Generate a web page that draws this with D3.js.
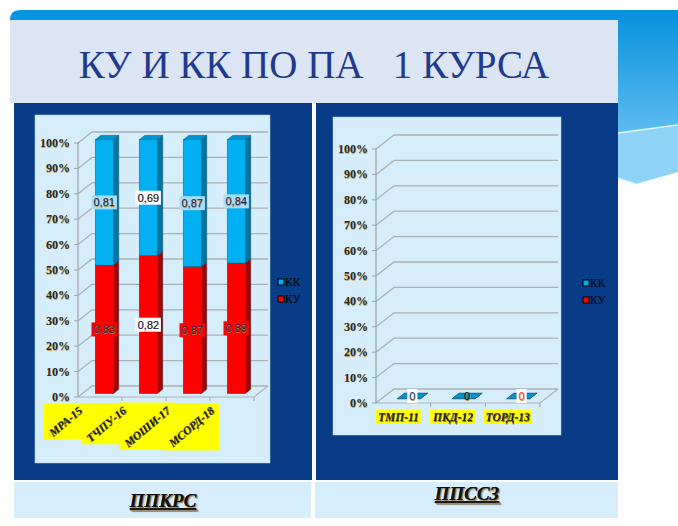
<!DOCTYPE html>
<html>
<head>
<meta charset="utf-8">
<script src="https://cdn.jsdelivr.net/npm/d3@7/dist/d3.min.js"></script>
<style>
  body { margin: 0; background: #fff; }
  svg { display: block; }
  .serif { font-family: "Liberation Serif", "Times New Roman", "DejaVu Serif", serif; }
</style>
</head>
<body>
<script>
var title = "КУ И КК ПО ПА   1 КУРСА";
var sectionNames = ["ППКРС", "ППССЗ"];
var seriesNames = ["КК", "КУ"];

var leftGroups = ["МРА-15", "ТЧПУ-16", "МОШИ-17", "МСОРД-18"];
var leftKU = [0.83, 0.82, 0.87, 0.89];
var leftKK = [0.81, 0.69, 0.87, 0.84];

var rightGroups = ["ТМП-11", "ПКД-12", "ТОРД-13"];
var rightKU = [0, 0, 0];
var rightKK = [0, 0, 0];

var yTicks = [0, 0.1, 0.2, 0.3, 0.4, 0.5, 0.6, 0.7, 0.8, 0.9, 1];
var yTickLabels = ["0%", "10%", "20%", "30%", "40%", "50%", "60%", "70%", "80%", "90%", "100%"];

var W = 678, H = 526;
var svg = d3.select("body").append("svg").attr("width", W).attr("height", H);

var defs = svg.append("defs");
var grad = defs.append("linearGradient").attr("id", "deco").attr("x1", 0).attr("y1", 0).attr("x2", 0).attr("y2", 1);
grad.append("stop").attr("offset", "0%").attr("stop-color", "#0690dd");
grad.append("stop").attr("offset", "100%").attr("stop-color", "#5dbcf0");

// slide decoration
svg.append("path")
    .attr("d", "M10,20 Q10,10 20,10 L678,10 L678,20 Z")
    .attr("fill", "#0793e0");
svg.append("rect").attr("x", 618).attr("y", 10).attr("width", 60).attr("height", 122).attr("fill", "url(#deco)");
svg.append("path")
    .attr("d", "M618,133 L678,126 L678,172 L636,184 L618,179 Z")
    .attr("fill", "#8fd2f8");
svg.append("path")
    .attr("d", "M618,133 L678,125")
    .attr("stroke", "#e6f4fd").attr("stroke-width", 1.5);
svg.append("path")
    .attr("d", "M618,178 L636,184")
    .attr("stroke", "#e6f4fd").attr("stroke-width", 1.2);

// title box
svg.append("rect").attr("x", 10).attr("y", 20).attr("width", 608).attr("height", 83).attr("fill", "#dbe5f4");
svg.append("text")
    .attr("class", "serif")
    .attr("x", 314).attr("y", 78)
    .attr("text-anchor", "middle")
    .style("white-space", "pre")
    .attr("font-size", 39)
    .attr("fill", "#1f3a8c")
    .text(title);

// table cells
svg.append("rect").attr("x", 14).attr("y", 103).attr("width", 298).attr("height", 377).attr("fill", "#083c86");
svg.append("rect").attr("x", 316).attr("y", 103).attr("width", 302).attr("height", 377).attr("fill", "#083c86");
svg.append("rect").attr("x", 14).attr("y", 482).attr("width", 297).attr("height", 36).attr("fill", "#d6edfc");
svg.append("rect").attr("x", 315).attr("y", 482).attr("width", 303).attr("height", 36).attr("fill", "#d6edfc");

[[163, 507], [467, 500]].forEach(function (p, i) {
    svg.append("text")
        .attr("class", "serif")
        .attr("x", p[0]).attr("y", p[1])
        .attr("text-anchor", "middle")
        .attr("font-size", 19)
        .attr("font-weight", "bold")
        .attr("font-style", "italic")
        .attr("text-decoration", "underline")
        .attr("fill", "#111")
        .style("text-shadow", "1px 1px 1px #9a8a70")
        .text(sectionNames[i]);
});

var kkColors = { front: "#00b0f0", side: "#00739f", top: "#0094cc" };
var kuColors = { front: "#ff0000", side: "#a30000", top: "#c80000" };

function drawBox(g, xl, xr, yb, yt, bdx, bdy, c) {
    g.append("path")
        .attr("d", "M" + xr + "," + yt + "L" + (xr + bdx) + "," + (yt + bdy) + "L" + (xr + bdx) + "," + (yb + bdy) + "L" + xr + "," + yb + "Z")
        .attr("fill", c.side).attr("stroke", "#1d4f6e").attr("stroke-width", 0.4);
    g.append("path")
        .attr("d", "M" + xl + "," + yt + "L" + (xl + bdx) + "," + (yt + bdy) + "L" + (xr + bdx) + "," + (yt + bdy) + "L" + xr + "," + yt + "Z")
        .attr("fill", c.top).attr("stroke", "#1d4f6e").attr("stroke-width", 0.4);
    if (yb - yt > 0) {
        g.append("rect")
            .attr("x", xl).attr("y", yt).attr("width", xr - xl).attr("height", yb - yt)
            .attr("fill", c.front).attr("stroke", "#1d4f6e").attr("stroke-width", 0.4);
    }
}

function drawLabel(g, cx, cy, txt, fill, color) {
    var t = g.append("text")
        .attr("x", cx).attr("y", cy + 4)
        .attr("text-anchor", "middle")
        .attr("font-family", "Liberation Sans, Arial, sans-serif")
        .attr("font-size", 11)
        .attr("fill", color)
        .style("text-shadow", "0.5px 0.5px 0.5px #b08a40")
        .text(txt);
    var bb = t.node().getBBox();
    if (fill) {
        g.insert("rect", function () { return t.node(); })
            .attr("x", bb.x - 2).attr("y", bb.y - 1)
            .attr("width", bb.width + 4).attr("height", bb.height + 2)
            .attr("fill", fill);
    }
}

function drawChart(o) {
    var g = svg.append("g");
    g.append("rect")
        .attr("x", o.plot[0]).attr("y", o.plot[1]).attr("width", o.plot[2]).attr("height", o.plot[3])
        .attr("fill", "#d6eefc").attr("stroke", "#b9d6ec").attr("stroke-width", 0.5);

    var x = d3.scaleBand().domain(o.groups).range([o.x0, o.x1]);
    var y = d3.scaleLinear().domain([0, 1]).range([o.y0, o.y1]);
    var dx = o.depth[0], dy = o.depth[1];
    var bw = x.bandwidth() * o.barFrac;
    var fx = dx * 0.3, fy = dy * 0.3;
    var bdx = dx * 0.4, bdy = dy * 0.4;

    // walls: gridlines
    yTicks.forEach(function (t) {
        g.append("path")
            .attr("d", "M" + o.x0 + "," + y(t) + "L" + (o.x0 + dx) + "," + (y(t) + dy) + "L" + (o.x1 + dx) + "," + (y(t) + dy))
            .attr("fill", "none").attr("stroke", "#a9b0b6").attr("stroke-width", 1.3);
    });
    // floor front + side
    g.append("path")
        .attr("d", "M" + o.x0 + "," + o.y0 + "L" + o.x1 + "," + o.y0 + "L" + (o.x1 + dx) + "," + (o.y0 + dy))
        .attr("fill", "none").attr("stroke", "#a9b0b6").attr("stroke-width", 1.2);
    // y axis
    g.append("line").attr("x1", o.x0).attr("x2", o.x0).attr("y1", o.y0).attr("y2", o.y1)
        .attr("stroke", "#9aa2a8").attr("stroke-width", 1.2);
    yTicks.forEach(function (t, i) {
        g.append("line").attr("x1", o.x0 - 4).attr("x2", o.x0).attr("y1", y(t)).attr("y2", y(t))
            .attr("stroke", "#9aa2a8");
        g.append("text")
            .attr("class", "serif")
            .attr("x", o.x0 - 8).attr("y", y(t) + 4)
            .attr("text-anchor", "end")
            .attr("font-size", 12)
            .attr("font-weight", "bold")
            .attr("fill", "#2a2a2a")
            .style("text-shadow", "0.6px 0.6px 0.6px #c9a45a")
            .text(yTickLabels[i]);
    });
    // category ticks
    o.groups.forEach(function (d) {
        var bx = x(d) + x.bandwidth();
        g.append("line").attr("x1", bx).attr("x2", bx).attr("y1", o.y0).attr("y2", o.y0 + 4)
            .attr("stroke", "#9aa2a8");
    });

    // bars
    o.groups.forEach(function (d, i) {
        var tot = o.ku[i] + o.kk[i];
        var fKU = tot ? o.ku[i] / tot : 0;
        var xl = x(d) + (x.bandwidth() - bw) / 2 + fx;
        var xr = xl + bw;
        drawBox(g, xl, xr, y(0) + fy, y(fKU) + fy, bdx, bdy, kuColors);
        drawBox(g, xl, xr, y(fKU) + fy, y(tot ? 1 : 0) + fy, bdx, bdy, kkColors);
        var cx = (xl + xr) / 2 + (tot ? 0 : bdx / 2);
        if (tot) {
            drawLabel(g, cx, (y(0) + y(fKU)) / 2 + fy, d3.format(".2f")(o.ku[i]).replace(".", ","),
                i === 1 ? "#ffffff" : "#ff0000", "#1b2550");
            drawLabel(g, cx, (y(fKU) + y(1)) / 2 + fy, d3.format(".2f")(o.kk[i]).replace(".", ","),
                i === 1 ? "#ffffff" : "#a9ddf7", "#1b2550");
        } else {
            var zc = ["#1f3a8c", "#111111", "#ff3b4f"][i % 3];
            drawLabel(g, cx, y(0) + fy + bdy / 2, String(o.kk[i]), i === 1 ? null : "#ffffff", zc);
        }
    });

    // category labels: yellow highlight behind every label
    var bg = g.append("g");
    var lg = g.append("g");
    o.groups.forEach(function (d) {
        var cx = x(d) + x.bandwidth() / 2;
        var t = lg.append("text")
            .attr("class", "serif")
            .attr("font-size", 11.5)
            .attr("font-weight", "bold")
            .attr("font-style", "italic")
            .attr("fill", "#222")
            .style("text-shadow", "0.6px 0.6px 0.6px #8a7a40")
            .text(d);
        if (o.rotate) {
            t.attr("text-anchor", "end")
                .attr("transform", "translate(" + (cx - 17) + "," + (o.y0 + 15) + ") rotate(-40)");
        } else {
            t.attr("text-anchor", "middle").attr("x", cx - 5).attr("y", o.y0 + 18);
        }
        var r = t.node().getBoundingClientRect();
        bg.append("rect")
            .attr("x", r.left - 2).attr("y", r.top - 1)
            .attr("width", r.width + 4).attr("height", r.height + 1)
            .attr("fill", "#ffff00");
    });

    // legend
    [kkColors, kuColors].forEach(function (c, i) {
        var ly = o.legendY + i * 17;
        g.append("rect").attr("x", o.legendX).attr("y", ly - 3).attr("width", 6).attr("height", 6)
            .attr("fill", c.front).attr("stroke", "#000").attr("stroke-width", 1);
        g.append("text")
            .attr("class", "serif")
            .attr("x", o.legendX + 7).attr("y", ly + 4)
            .attr("font-size", 11.5)
            .attr("fill", "#000")
            .text(seriesNames[i]);
    });
}

drawChart({
    groups: leftGroups, ku: leftKU, kk: leftKK,
    plot: [35, 115, 235, 348],
    x0: 78, x1: 254, y0: 397, y1: 143,
    depth: [14, -11], barFrac: 0.41, rotate: true,
    legendX: 278, legendY: 282
});

drawChart({
    groups: rightGroups, ku: rightKU, kk: rightKK,
    plot: [333, 117, 228, 318],
    x0: 376, x1: 540, y0: 403, y1: 149,
    depth: [18, -14], barFrac: 0.42, rotate: false,
    legendX: 583, legendY: 283
});
</script>
</body>
</html>
